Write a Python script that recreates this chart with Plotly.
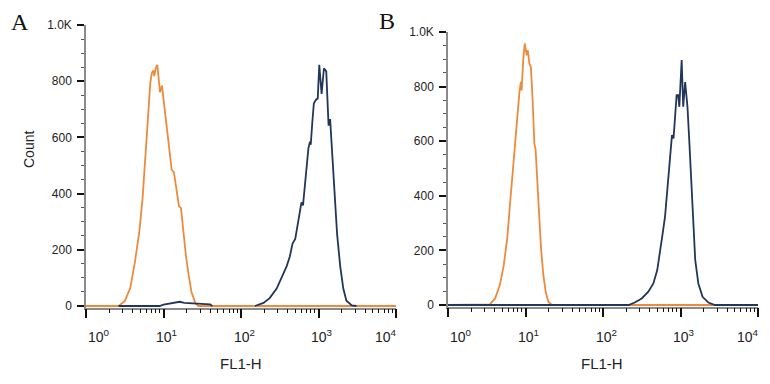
import plotly.graph_objects as go

# ---------------- data (x as log10 of FL1-H, y as Count) ----------------
a_orange_log = [0.0, 0.42, 0.50, 0.57, 0.63, 0.69, 0.73, 0.76, 0.78, 0.80, 0.83, 0.85, 0.87, 0.88,
                0.90, 0.92, 0.94, 0.955, 0.98, 1.00, 1.03, 1.06, 1.105, 1.135, 1.17, 1.20, 1.225,
                1.255, 1.29, 1.325, 1.36, 1.41, 1.45, 4.0]
a_orange_cnt = [0, 0, 17, 63, 154, 269, 383, 509, 600, 680, 795, 830, 838, 818,
                847, 858, 812, 761, 784, 738, 658, 589, 486, 475, 406, 355, 349,
                269, 177, 109, 51, 11, 0, 0]

a_blue1_log = [0.42, 0.95, 1.00, 1.08, 1.15, 1.21, 1.27, 1.40, 1.55, 1.60, 1.63]
a_blue1_cnt = [0, 0, 5, 8, 12, 15, 11, 9, 8, 6, 0]

a_blue2_log = [2.18, 2.29, 2.37, 2.46, 2.525, 2.59, 2.63, 2.665, 2.70, 2.73, 2.76, 2.78, 2.80,
               2.825, 2.85, 2.87, 2.89, 2.90, 2.92, 2.94, 2.97, 2.99, 3.01, 3.04, 3.07, 3.10,
               3.13, 3.15, 3.18, 3.21, 3.24, 3.28, 3.32, 3.36, 3.43, 3.49]
a_blue2_cnt = [0, 11, 28, 62, 102, 142, 176, 222, 239, 290, 347, 369, 358,
               426, 494, 562, 585, 574, 653, 721, 735, 738, 858, 755, 846, 835,
               642, 665, 528, 392, 256, 142, 62, 19, 2, 0]

b_orange_log = [0.0, 0.50, 0.54, 0.61, 0.67, 0.72, 0.765, 0.80, 0.835, 0.865, 0.895, 0.92, 0.94,
                0.95, 0.97, 0.99, 1.015, 1.03, 1.05, 1.07, 1.09, 1.115, 1.13, 1.15, 1.175,
                1.20, 1.23, 1.26, 1.295, 1.34, 4.0]
b_orange_cnt = [0, 0, 2, 25, 74, 147, 246, 368, 491, 565, 688, 774, 817,
                786, 896, 958, 915, 933, 884, 872, 761, 589, 571, 467, 332,
                209, 110, 49, 12, 0, 0]

b_blue_log = [0.0, 2.33, 2.41, 2.50, 2.585, 2.65, 2.70, 2.735, 2.77, 2.80, 2.83, 2.855, 2.88,
              2.89, 2.91, 2.93, 2.95, 2.97, 2.985, 3.015, 3.035, 3.06, 3.09, 3.115, 3.14,
              3.165, 3.19, 3.23, 3.285, 3.36, 3.445, 4.0]
b_blue_cnt = [0, 0, 9, 24, 49, 79, 128, 189, 262, 323, 433, 519, 592,
              622, 610, 702, 769, 769, 726, 897, 726, 817, 726, 592, 433,
              275, 165, 79, 30, 9, 0, 0]

y_tickvals = [0, 200, 400, 600, 800, 1000]
y_ticktext = ["0", "200", "400", "600", "800", "1.0K"]
x_tick_exps = [0, 1, 2, 3, 4]
x_ticktext = ["10<sup>0</sup>", "10<sup>1</sup>", "10<sup>2</sup>", "10<sup>3</sup>", "10<sup>4</sup>"]
x_minor = [m * 10 ** d for d in range(4) for m in range(2, 10)]

ORANGE = "#EE8A3C"
NAVY = "#22355B"

# the page body has an 8px default margin; size the figure so it fills the 770x384 window
OFF = 8
W, H = 770 - OFF, 384 - OFF

def fx(px):
    return (px - OFF) / W

def fy(px):
    return 1 - (px - OFF) / H

fig = go.Figure()

def add(xlog, cnt, color, xa, ya):
    fig.add_trace(go.Scatter(x=[10 ** v for v in xlog], y=cnt, mode="lines",
                             line=dict(color=color, width=1.8), xaxis=xa, yaxis=ya,
                             showlegend=False, hoverinfo="skip"))

add(a_orange_log, a_orange_cnt, ORANGE, "x", "y")
add(a_blue1_log, a_blue1_cnt, NAVY, "x", "y")
add(a_blue2_log, a_blue2_cnt, NAVY, "x", "y")
add(b_orange_log, b_orange_cnt, ORANGE, "x2", "y2")
add(b_blue_log, b_blue_cnt, NAVY, "x2", "y2")

def xax(x0, x1, anchor):
    return dict(type="log", range=[0, 4], domain=[fx(x0), fx(x1)], anchor=anchor, automargin=False,
                showgrid=False, zeroline=False, showline=True, linecolor="#8a8a8a", linewidth=1.5,
                ticks="outside", ticklen=9, tickwidth=2.2, tickcolor="#111",
                tickvals=[10 ** e for e in x_tick_exps], showticklabels=False,
                minor=dict(tickvals=x_minor, ticks="outside", ticklen=4, tickwidth=1.3, tickcolor="#111"),
                layer="below traces")

def yax(y0px, y1000px, anchor):
    lo = -6
    unit = (y0px - y1000px) / 1000.0
    bottom_px = y0px - lo * unit
    return dict(range=[lo, 1000], domain=[fy(bottom_px), fy(y1000px)], anchor=anchor,
                automargin=False,
                showgrid=False, zeroline=False, showline=True, linecolor="#8a8a8a", linewidth=1.5,
                ticks="outside", ticklen=7, tickwidth=2.2, tickcolor="#111",
                tickvals=y_tickvals, ticktext=y_ticktext, ticklabelstandoff=3,
                tickfont=dict(family="Liberation Sans", size=12, color="#222"),
                minor=dict(dtick=50, ticks="outside", ticklen=3, tickwidth=1.2, tickcolor="#555"),
                layer="below traces")

annotations = [
    dict(text="A", x=fx(20), y=fy(22), xref="paper", yref="paper", showarrow=False,
         xanchor="center", yanchor="middle",
         font=dict(family="Liberation Serif", size=24, color="#111")),
    dict(text="B", x=fx(387), y=fy(21), xref="paper", yref="paper", showarrow=False,
         xanchor="center", yanchor="middle",
         font=dict(family="Liberation Serif", size=24, color="#111")),
    dict(text="Count", x=fx(29), y=fy(150), xref="paper", yref="paper", showarrow=False,
         xanchor="center", yanchor="middle",
         textangle=-90, font=dict(family="Liberation Sans", size=14, color="#222")),
]
for xr in ["x", "x2"]:
    cx = 241 if xr == "x" else 602
    annotations.append(dict(text="FL1-H", x=fx(cx), y=fy(363), xref="paper", yref="paper",
                            showarrow=False, xanchor="center", yanchor="middle",
                            font=dict(family="Liberation Sans", size=15, color="#222")))
    for i, (e, t) in enumerate(zip(x_tick_exps, x_ticktext)):
        shift = 13 if i == 0 else (-10 if i == len(x_tick_exps) - 1 else 3)
        annotations.append(dict(text=t, x=e, xref=xr, y=fy(336), yref="paper",
                                showarrow=False, xanchor="center", yanchor="middle", xshift=shift,
                                font=dict(family="Liberation Sans", size=14, color="#222")))

fig.update_layout(
    width=W, height=H, margin=dict(l=0, r=0, t=0, b=0),
    paper_bgcolor="white", plot_bgcolor="white",
    xaxis=xax(86, 396, "y"), yaxis=yax(306, 25, "x"),
    xaxis2=xax(448, 758, "y2"), yaxis2=yax(305, 32, "x2"),
    annotations=annotations,
)

fig.write_html("out.html")
